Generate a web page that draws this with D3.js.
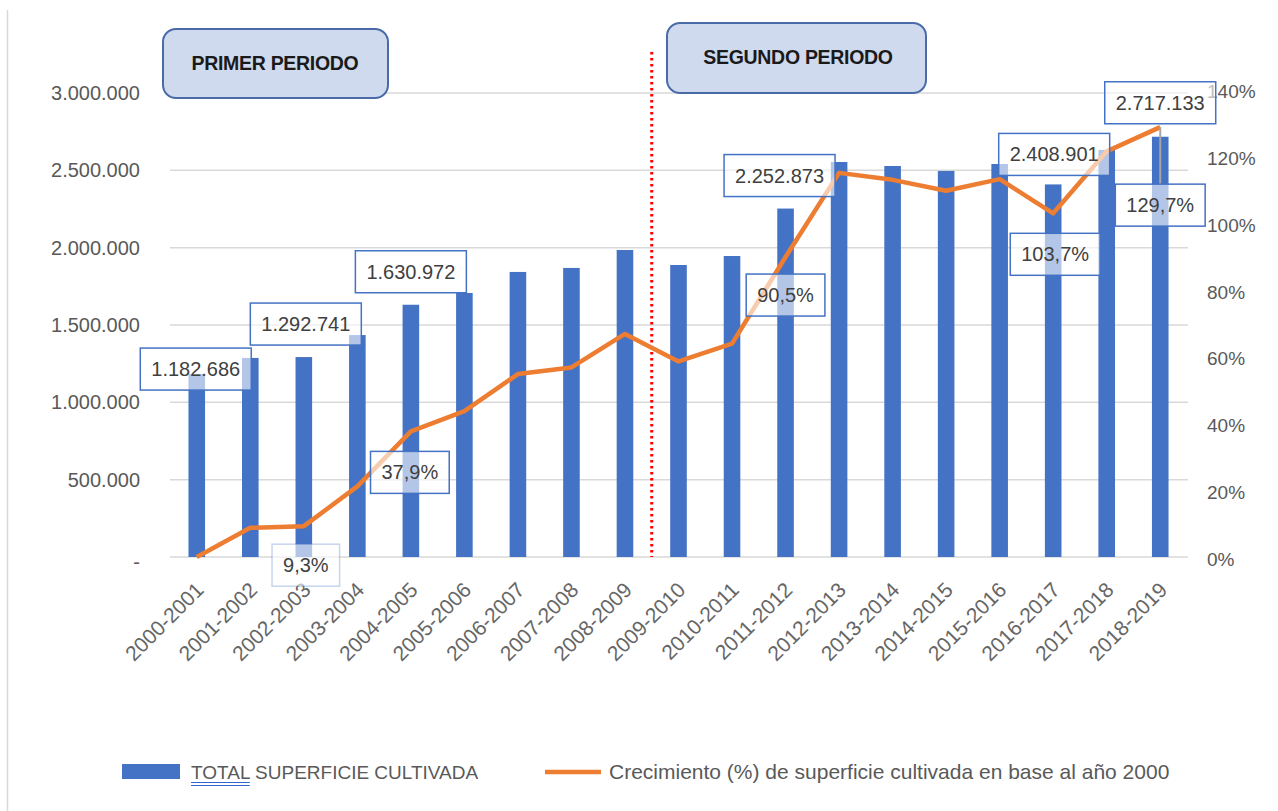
<!DOCTYPE html>
<html>
<head>
<meta charset="utf-8">
<script src="https://cdn.jsdelivr.net/npm/d3@7"></script>
<style>
  body { margin: 0; background: #fff; }
  svg { display: block; font-family: "Liberation Sans", Arial, sans-serif; }
</style>
</head>
<body>
<div id="chart"></div>
<script>
// data
const seasons = [
  "2000-2001", "2001-2002", "2002-2003", "2003-2004", "2004-2005",
  "2005-2006", "2006-2007", "2007-2008", "2008-2009", "2009-2010",
  "2010-2011", "2011-2012", "2012-2013", "2013-2014", "2014-2015",
  "2015-2016", "2016-2017", "2017-2018", "2018-2019"
];
const superficie = [
  1182686, 1287000, 1292741, 1435000, 1630972, 1707000, 1843000, 1869000,
  1985000, 1888000, 1946000, 2252873, 2554000, 2528000, 2496000, 2541000,
  2408901, 2632000, 2717133
];
const crecimiento = [
  0, 8.8, 9.3, 21.3, 37.9, 44.0, 55.2, 57.2, 67.3, 59.0, 64.4, 90.5,
  115.9, 113.8, 110.5, 114.0, 103.7, 122.4, 129.7
];
const leftTicks = [0, 500000, 1000000, 1500000, 2000000, 2500000, 3000000];
const rightTicks = [0, 20, 40, 60, 80, 100, 120, 140];
const periodos = ["PRIMER PERIODO", "SEGUNDO PERIODO"];
const legendLabels = [
  "TOTAL SUPERFICIE CULTIVADA",
  "Crecimiento (%) de superficie cultivada en base al año 2000"
];
// which points carry a label box (offsets from the mark)
const valueLabels = [
  { i: 0, dx: -1, dy: -5 }, { i: 2, dx: 2, dy: -33 }, { i: 4, dx: 0, dy: -33 },
  { i: 11, dx: -6, dy: -33 }, { i: 16, dx: 1, dy: -30 }, { i: 18, dx: 0, dy: -34 }
];
const pctLabels = [
  { i: 2, dx: 2, dy: 39, faint: true }, { i: 4, dx: -1, dy: 41 },
  { i: 11, dx: 0, dy: 38 }, { i: 16, dx: 2, dy: 41 }, { i: 18, dx: 0, dy: 78, leader: true }
];

const width = 1278, height = 811;
const margin = { top: 93, right: 91, bottom: 254, left: 170 };

const svg = d3.select("#chart").append("svg")
  .attr("width", width).attr("height", height);

const locale = d3.formatLocale({ decimal: ",", thousands: ".", grouping: [3], currency: ["", ""] });
const fmtInt = locale.format(",d");
const fmtPct = locale.format(".1f");

// scales
const x = d3.scaleBand()
  .domain(seasons)
  .range([margin.left, width - margin.right])
  .padding(0);
const y = d3.scaleLinear().domain([0, 3000000]).range([height - margin.bottom, margin.top]);
const y2 = d3.scaleLinear().domain([0, 140]).range([height - margin.bottom, margin.top]);
const cx = (d) => x(d) + x.bandwidth() / 2;
const barW = x.bandwidth() * 0.31;

// chart border (left edge)
svg.append("line")
  .attr("x1", 7.5).attr("x2", 7.5).attr("y1", 10).attr("y2", height)
  .attr("stroke", "#d9d9d9").attr("stroke-width", 1.5);

// gridlines
svg.append("g")
  .selectAll("line")
  .data(leftTicks)
  .join("line")
  .attr("x1", margin.left).attr("x2", width - margin.right + 1)
  .attr("y1", (d) => y(d)).attr("y2", (d) => y(d))
  .attr("stroke", "#d9d9d9").attr("stroke-width", 1.5);

// left axis
svg.append("g")
  .selectAll("text")
  .data(leftTicks)
  .join("text")
  .attr("x", 140).attr("y", (d) => y(d)).attr("dy", (d) => (d === 0 ? "0.6em" : "0.35em"))
  .attr("text-anchor", "end")
  .attr("fill", "#595959").style("font-size", "20px")
  .text((d) => (d === 0 ? "-" : fmtInt(d)));

// right axis
svg.append("g")
  .selectAll("text")
  .data(rightTicks)
  .join("text")
  .attr("x", 1207).attr("y", (d) => y2(d) + 2 - d / 40).attr("dy", "0.35em")
  .attr("fill", "#595959").style("font-size", "19px")
  .text((d) => d + "%");

// bars
svg.append("g")
  .selectAll("rect")
  .data(seasons)
  .join("rect")
  .attr("x", (d) => cx(d) - barW / 2)
  .attr("y", (d, i) => y(superficie[i]))
  .attr("width", barW)
  .attr("height", (d, i) => y(0) - y(superficie[i]))
  .attr("fill", "#4472C4");

// x labels
svg.append("g")
  .selectAll("text")
  .data(seasons)
  .join("text")
  .attr("transform", (d) => `translate(${cx(d) + 3},${y(0) + 29}) rotate(-45)`)
  .attr("dy", "0.35em")
  .attr("text-anchor", "end")
  .attr("fill", "#666").style("font-size", "21px")
  .text((d) => d);

// red dotted separator between periods
const sepX = x(seasons[9]);
svg.append("line")
  .attr("x1", sepX).attr("x2", sepX)
  .attr("y1", 52).attr("y2", y(0))
  .attr("stroke", "#FF0000").attr("stroke-width", 3)
  .attr("stroke-dasharray", "2.5,3.5");

// growth line
const line = d3.line()
  .x((d) => cx(d))
  .y((d, i) => y2(crecimiento[i]));
svg.append("path")
  .datum(seasons)
  .attr("d", line)
  .attr("fill", "none")
  .attr("stroke", "#ED7D31").attr("stroke-width", 4.5)
  .attr("stroke-linejoin", "round");

// labels
function labelBox(g, cxp, cyp, txt, faint) {
  const t = g.append("text")
    .attr("x", cxp).attr("y", cyp).attr("dy", "0.35em")
    .attr("text-anchor", "middle")
    .attr("fill", "#404040").style("font-size", "20px")
    .text(txt);
  const w = t.node().getComputedTextLength() + 22;
  g.insert("rect", "text")
    .attr("x", cxp - w / 2).attr("y", cyp - 21)
    .attr("width", w).attr("height", 42)
    .attr("fill", "#fff").attr("fill-opacity", 0.6)
    .attr("stroke", "#4472C4").attr("stroke-width", 1.5)
    .attr("stroke-opacity", faint ? 0.3 : 1);
}

pctLabels.filter((d) => d.leader).forEach((d) => {
  svg.append("line")
    .attr("x1", cx(seasons[d.i])).attr("x2", cx(seasons[d.i]))
    .attr("y1", y2(crecimiento[d.i])).attr("y2", y2(crecimiento[d.i]) + d.dy - 21)
    .attr("stroke", "#a6a6a6").attr("stroke-width", 2);
});

pctLabels.forEach((d) => {
  labelBox(svg.append("g"), cx(seasons[d.i]) + d.dx, y2(crecimiento[d.i]) + d.dy,
    fmtPct(crecimiento[d.i]) + "%", d.faint);
});
valueLabels.forEach((d) => {
  labelBox(svg.append("g"), cx(seasons[d.i]) + d.dx, y(superficie[d.i]) + d.dy,
    fmtInt(superficie[d.i]), false);
});

// period boxes
const periodBoxes = [
  { x: 163, y: 29, w: 225, h: 69, tx: 275 },
  { x: 667, y: 23, w: 259, h: 70, tx: 798 }
];
periodBoxes.forEach((b, i) => {
  svg.append("rect")
    .attr("x", b.x).attr("y", b.y).attr("width", b.w).attr("height", b.h)
    .attr("rx", 13)
    .attr("fill", "#CFDAEE").attr("stroke", "#4A6BA8").attr("stroke-width", 2);
  svg.append("text")
    .attr("x", b.tx).attr("y", b.y + 34).attr("dy", "0.35em")
    .attr("text-anchor", "middle")
    .attr("fill", "#1a1a1a").style("font-size", "19.5px").style("font-weight", "bold")
    .attr("letter-spacing", "-0.3")
    .text(periodos[i]);
});

// legend
const legend = svg.append("g");
legend.append("rect")
  .attr("x", 122).attr("y", 764).attr("width", 58).attr("height", 15)
  .attr("fill", "#4472C4");
const lt1 = legend.append("text")
  .attr("x", 191).attr("y", 779)
  .attr("fill", "#595959").style("font-size", "19px");
lt1.append("tspan").attr("class", "first").text(legendLabels[0].split(" ")[0]);
lt1.append("tspan").text(" " + legendLabels[0].split(" ").slice(1).join(" "));
const firstW = lt1.select(".first").node().getComputedTextLength();
[782.5, 785.5].forEach((yy) => {
  legend.append("line")
    .attr("x1", 191).attr("x2", 191 + firstW)
    .attr("y1", yy).attr("y2", yy)
    .attr("stroke", "#3366CC").attr("stroke-width", 1);
});
legend.append("line")
  .attr("x1", 545).attr("x2", 601).attr("y1", 772).attr("y2", 772)
  .attr("stroke", "#ED7D31").attr("stroke-width", 4.5);
legend.append("text")
  .attr("x", 609).attr("y", 779)
  .attr("fill", "#595959").style("font-size", "21px")
  .text(legendLabels[1]);
</script>
</body>
</html>
